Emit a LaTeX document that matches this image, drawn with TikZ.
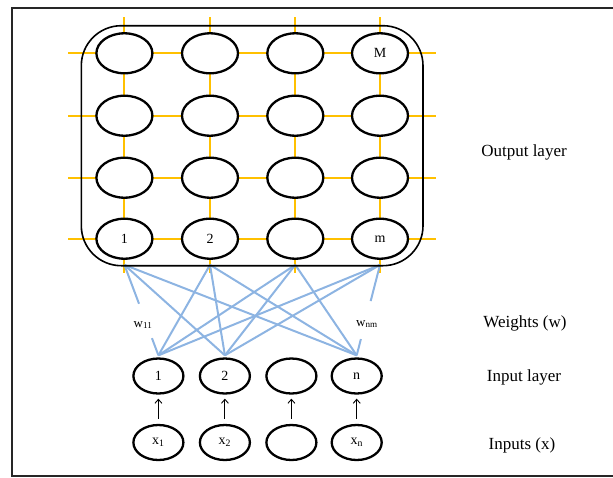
\documentclass[tikz,border=0pt]{standalone}
\usepackage{fontspec}
\setmainfont{Liberation Serif}
\usetikzlibrary{shapes.geometric,arrows.meta,calc}
\definecolor{gridyellow}{HTML}{FFC000}
\definecolor{wblue}{HTML}{8DB4E2}
\tikzset{
  bignode/.style={ellipse,draw=black,line width=2.3pt,fill=white,minimum width=56pt,minimum height=40pt,inner sep=0pt,font=\fontsize{14}{16}\selectfont},
  smallnode/.style={ellipse,draw=black,line width=2.3pt,fill=white,minimum width=50pt,minimum height=35pt,inner sep=0pt,font=\fontsize{14}{16}\selectfont},
  gridline/.style={draw=gridyellow,line width=2pt},
  wline/.style={draw=wblue,line width=2pt},
  inarrow/.style={draw=black,line width=0.9pt,-{Straight Barb[length=4pt,width=7pt]},shorten >=4pt,shorten <=5pt},
  sidelabel/.style={font=\fontsize{17}{20}\selectfont,inner sep=0pt},
  wlab/.style={font=\fontsize{13}{15}\selectfont,inner sep=0pt}
}
\begin{document}
\begin{tikzpicture}[x=1pt,y=-1pt]
\useasboundingbox (0,0) rectangle (613,477);
\begin{scope}
\clip (0,0) rectangle (613,477);
\draw[line width=2pt,draw=black!85] (11.5,7.5) rectangle (640,475.5);
\end{scope}
% yellow grid
\foreach \y in {53.3,115.7,177.7,238.7} {\draw[gridline] (68,\y) -- (436,\y);}
\foreach \x in {124.4,210,295.3,380} {\draw[gridline] (\x,17) -- (\x,273);}
% output grid nodes
\node[bignode] (o11) at (124.4,53.3) {};
\node[bignode] (o12) at (210,53.3) {};
\node[bignode] (o13) at (295.3,53.3) {};
\node[bignode] (o14) at (380,53.3) {M};
\node[bignode] (o21) at (124.4,115.7) {};
\node[bignode] (o22) at (210,115.7) {};
\node[bignode] (o23) at (295.3,115.7) {};
\node[bignode] (o24) at (380,115.7) {};
\node[bignode] (o31) at (124.4,177.7) {};
\node[bignode] (o32) at (210,177.7) {};
\node[bignode] (o33) at (295.3,177.7) {};
\node[bignode] (o34) at (380,177.7) {};
\node[bignode] (o41) at (124.4,238.7) {1};
\node[bignode] (o42) at (210,238.7) {2};
\node[bignode] (o43) at (295.3,238.7) {};
\node[bignode] (o44) at (380,238.7) {m};
% input layer
\node[smallnode] (i1) at (158.4,376) {1};
\node[smallnode] (i2) at (224.9,376) {2};
\node[smallnode] (i3) at (291.4,376) {};
\node[smallnode] (i4) at (356.7,376) {n};
% inputs
\node[smallnode] (x1) at (158.4,442.5) {x\textsubscript{1}};
\node[smallnode] (x2) at (224.9,442.5) {x\textsubscript{2}};
\node[smallnode] (x3) at (291.4,442.5) {};
\node[smallnode] (x4) at (356.7,442.5) {x\textsubscript{n}};
% weights
\foreach \k in {1,2,3,4} {\coordinate (s\k) at ($(o4\k.south)+(0,5)$);}
\foreach \k in {1,2,4} {\coordinate (e\k) at ($(i\k.north)+(0,-2)$);}
\foreach \o in {2,3} {\foreach \i in {1,2,4} {\draw[wline] (s\o) -- (e\i);}}
\draw[wline] (s1) -- (e2);
\draw[wline] (s1) -- (e4);
\draw[wline] (s4) -- (e1);
\draw[wline] (s4) -- (e2);
\draw[wline] (s1) -- ($(s1)!0.43!(e1)$);
\draw[wline] ($(s1)!0.81!(e1)$) -- (e1);
\draw[wline] (s4) -- ($(s4)!0.40!(e4)$);
\draw[wline] ($(s4)!0.82!(e4)$) -- (e4);
\node[wlab] (w11) at (143,325) {w\textsubscript{11}};
\node[wlab] (wnm) at (367,324) {w\textsubscript{nm}};
% container
\draw[line width=1.6pt,rounded corners=40pt] (81.3,25.7) rectangle (423,265.7);
% input arrows
\foreach \k in {1,2,3,4} {\draw[inarrow] (x\k.north) -- (i\k.south);}
% side labels
\node[sidelabel] (lout) at (524,152.5) {Output layer};
\node[sidelabel] (lw) at (525,323.5) {Weights (w)};
\node[sidelabel] (lin) at (524,377) {Input layer};
\node[sidelabel] (lx) at (522,445.5) {Inputs (x)};
\end{tikzpicture}
\end{document}
